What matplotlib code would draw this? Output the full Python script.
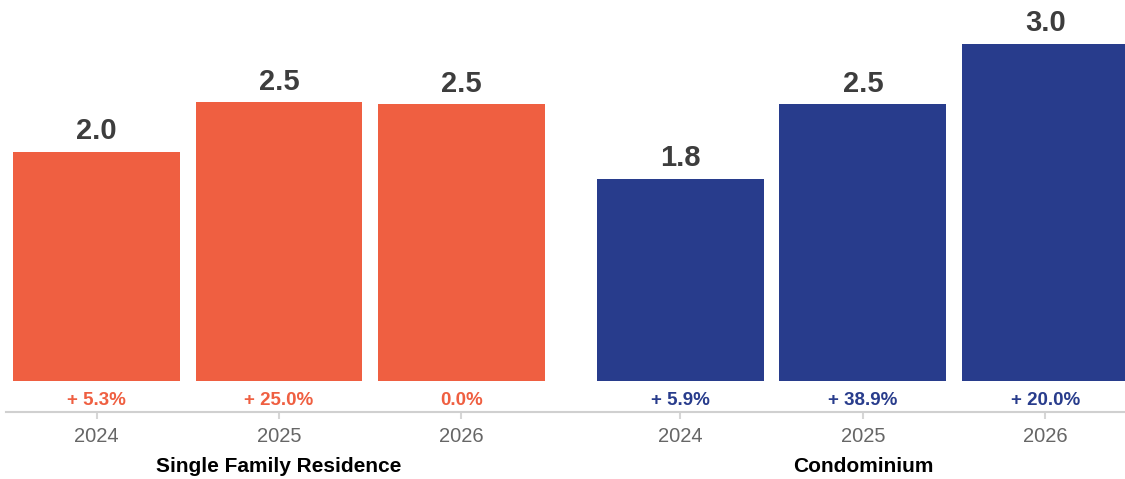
import numpy as np
import matplotlib.pyplot as plt

plt.rcParams['font.family'] = ['Liberation Sans', 'DejaVu Sans']

years = ['2024', '2025', '2026']
sfr_values = [2.04, 2.48, 2.46]
condo_values = [1.80, 2.46, 3.00]
sfr_change = ['+ 5.3%', '+ 25.0%', '0.0%']
condo_change = ['+ 5.9%', '+ 38.9%', '+ 20.0%']
groups = ['Single Family Residence', 'Condominium']

orange = '#EF5F41'
navy = '#283C8C'

sfr_x = np.arange(3)
condo_x = np.arange(3) + 3.2

fig = plt.figure(figsize=(11.25, 4.79), dpi=100)
ax = fig.add_axes([6 / 1125, 98 / 479, 1119 / 1125, 381 / 479])

width = 0.915
series = [(sfr_x, sfr_values, sfr_change, orange),
          (condo_x, condo_values, condo_change, navy)]
for xs, vals, chg, col in series:
    ax.bar(xs, vals, width=width, color=col)
    for x, v, c in zip(xs, vals, chg):
        ax.annotate(f'{v:.1f}', (x, v), xytext=(0, 9), textcoords='offset points',
                    ha='center', va='baseline', fontsize=21, fontweight='bold',
                    color='#3d3d3d')
        ax.annotate(c, (x, 0), xytext=(0, -17.5), textcoords='offset points',
                    ha='center', va='baseline', fontsize=13.5, fontweight='bold',
                    color=col)

ax.set_xlim(-0.496, 5.636)
ax.set_ylim(0, 381 / 112.5)

ticks = list(sfr_x) + list(condo_x)
ax.set_xticks(ticks, years * 2)
ax.tick_params(axis='x', length=5, width=1.5, color='#d6d6d6', pad=6,
               labelsize=14.5, labelcolor='#666666')
ax.set_yticks([])

for s in ['top', 'right', 'left']:
    ax.spines[s].set_visible(False)
ax.spines['bottom'].set_position(('outward', 22.3))
ax.spines['bottom'].set_color('#d0d0d0')
ax.spines['bottom'].set_linewidth(1.5)

trans = ax.get_xaxis_transform()
ax.text(sfr_x.mean(), -85 / 381, groups[0], transform=trans, ha='center',
        va='center', fontsize=15, fontweight='bold', color='black')
ax.text(condo_x.mean(), -85 / 381, groups[1], transform=trans, ha='center',
        va='center', fontsize=15, fontweight='bold', color='black')

fig.savefig('out.png', dpi=100)
